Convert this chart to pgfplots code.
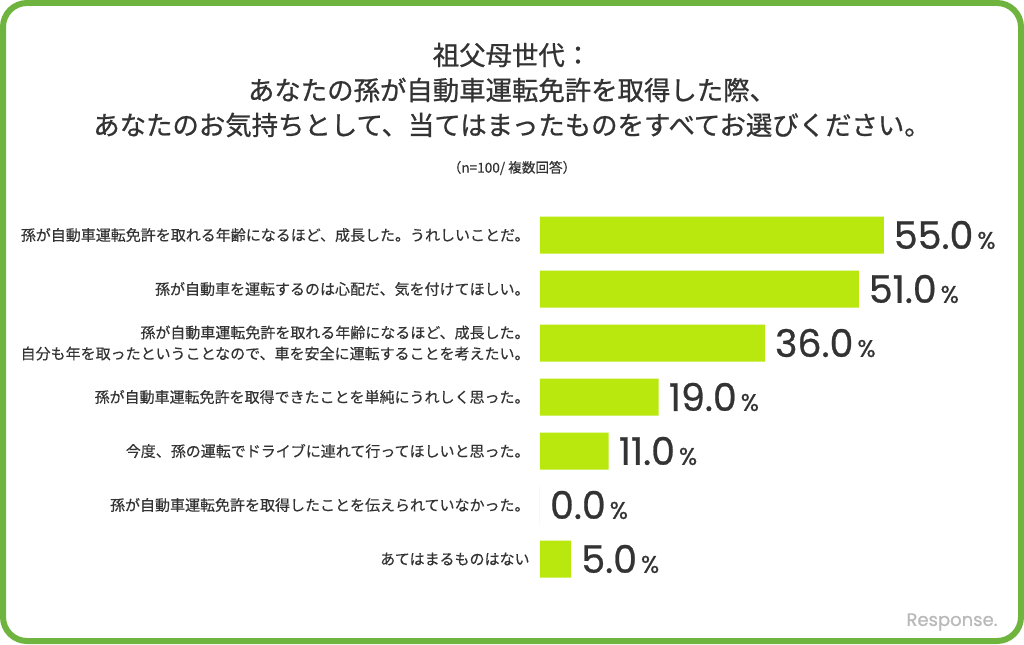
\documentclass[border=0pt]{standalone}
\usepackage{fontspec}
\usepackage{pgfplots}
\pgfplotsset{compat=1.18}
\setmainfont{Noto Sans CJK JP}
\newfontfamily\jptitle{Noto Sans CJK JP}[FakeBold=0.8]
\newfontfamily\jplabel{Noto Sans CJK JP}[FakeBold=0.3]
\newfontfamily\numfont{Poppins}[FakeBold=0.7]
\definecolor{barlime}{HTML}{B8E80E}
\definecolor{framegreen}{HTML}{6EB43F}
\definecolor{txt}{HTML}{333333}

\begin{document}
\begin{tikzpicture}[x=1pt,y=1pt]
% frame (1px = 0.5pt)
\fill[white] (0,0) rectangle (512,322);
\draw[framegreen, line width=3pt, rounded corners=12pt] (1.5,1.5) rectangle (510.5,320.5);

% title
\node[txt, font=\jptitle\fontsize{13.2}{15}\selectfont] at (256,294.5) {祖父母世代：};
\node[txt, font=\jptitle\fontsize{13.2}{15}\selectfont] at (256,277) {あなたの孫が自動車運転免許を取得した際、};
\node[txt, font=\jptitle\fontsize{13.2}{15}\selectfont] at (256,259.5) {あなたのお気持ちとして、当てはまったものをすべてお選びください。};
\node[txt, font=\jplabel\fontsize{6.8}{8}\selectfont] at (256,238) {（n=100/ 複数回答）};

\begin{axis}[
    at={(270pt,29pt)}, anchor=south west, scale only axis,
    width=218.75pt, height=189pt,
    xbar, bar width=18.5pt,
    xmin=0, xmax=70, ymin=-0.5, ymax=6.5, y dir=reverse,
    axis line style={draw=none}, xtick=\empty,
    ytick={0,...,6}, major tick length=0pt,
    yticklabels={
        {孫が自動車運転免許を取れる年齢になるほど、成長した。うれしいことだ。},
        {孫が自動車を運転するのは心配だ、気を付けてほしい。},
        {孫が自動車運転免許を取れる年齢になるほど、成長した。\\自分も年を取ったということなので、車を安全に運転することを考えたい。},
        {孫が自動車運転免許を取得できたことを単純にうれしく思った。},
        {今度、孫の運転でドライブに連れて行ってほしいと思った。},
        {孫が自動車運転免許を取得したことを伝えられていなかった。},
        {あてはまるものはない}},
    yticklabel style={font=\jplabel\fontsize{7.5}{10.5}\selectfont, text=txt, align=right, inner sep=0pt, xshift=-5pt},
    point meta=x,
    nodes near coords={\numfont\fontsize{19}{19}\selectfont\pgfmathprintnumber[fixed,fixed zerofill,precision=1,assume math mode=true]{\pgfplotspointmeta}\fontsize{12}{12}\selectfont\,\%},
    nodes near coords style={anchor=west, xshift=1.5pt, text=txt},
    clip=false,
]
\addplot[fill=barlime, draw=none] coordinates {
    (55,0) (51,1) (36,2) (19,3) (11,4) (0,5) (5,6)
};
\end{axis}

% watermark
\node[gray!55, font=\numfont\fontsize{9}{9}\selectfont] at (476,11) {Response.};
\end{tikzpicture}
\end{document}
